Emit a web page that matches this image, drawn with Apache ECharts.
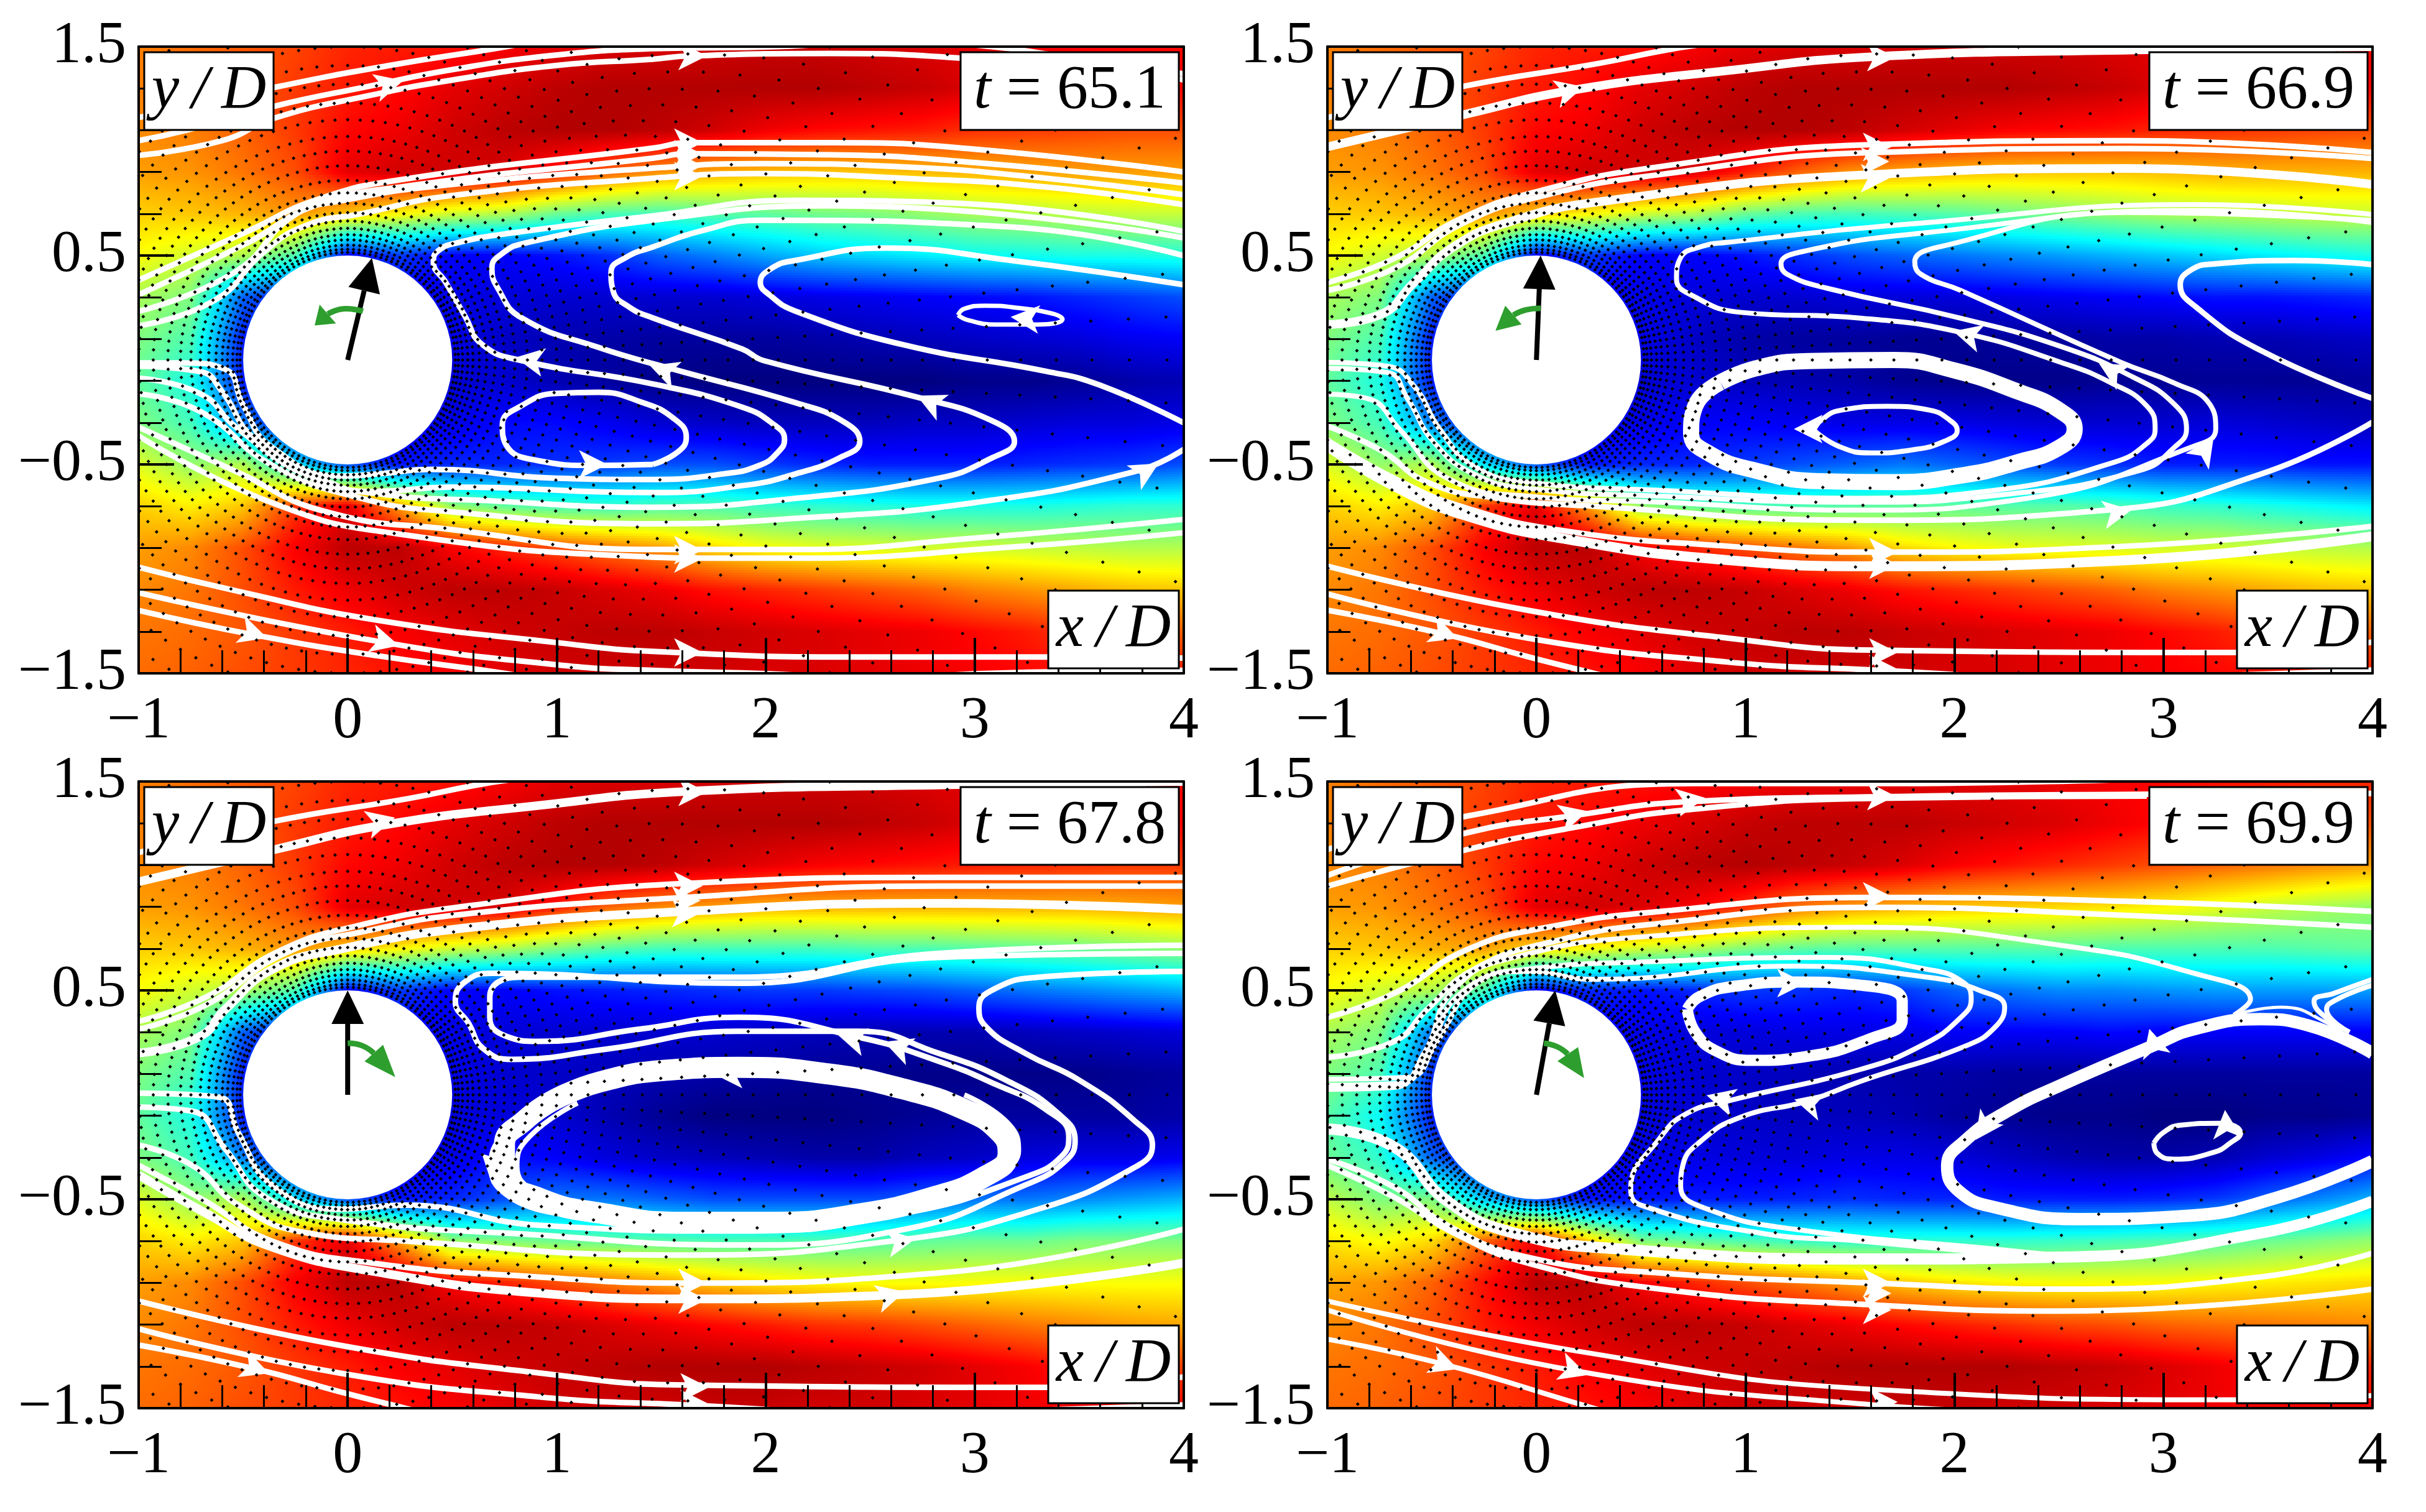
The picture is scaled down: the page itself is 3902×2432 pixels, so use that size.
<!DOCTYPE html>
<html>
<head>
<meta charset="utf-8">
<style>html,body{margin:0;padding:0;background:#fff}#chart{width:3902px;height:2432px}</style>
<script src="https://cdn.jsdelivr.net/npm/echarts@6/dist/echarts.min.js"></script>
</head>
<body>
<div id="chart"></div>
<script>
// stations of the velocity field
const xStations = [-1,-0.75,-0.5,-0.25,0,0.25,0.5,0.75,1,1.25,1.5,1.75,2,2.25,2.5,2.75,3,3.25,3.5,3.75,4]
const yStations = [1.5,1.3,1.1,0.9,0.7,0.5,0.3,0.1,-0.1,-0.3,-0.5,-0.7,-0.9,-1.1,-1.3,-1.5]

const times = ['65.1', '66.9', '67.8', '69.9']
const xTicks = [-1, 0, 1, 2, 3, 4]
const yTicks = [-1.5, -0.5, 0.5, 1.5]
const yMinorTicks = [-1.3,-1.1,-0.9,-0.7,-0.3,-0.1,0.1,0.3,0.7,0.9,1.1,1.3]

// computational mesh, drawn as dots
const meshRadii = [0.515,0.53,0.55,0.575,0.6,0.63,0.665,0.705,0.75,0.8,0.86,0.93,1,1.07,1.15,1.23,1.32,1.41,1.5,1.6,1.71,1.82,1.94,2.06,2.19,2.32,2.46,2.6,2.75,2.9,3.06,3.22,3.39,3.56,3.74,3.92,4.1]
const meshAngles = [0,3,6,9,12,15,18,21,24,27,30,33,36,39,42,45,48,51,54,57,60,63,66,69,72,75,78,81,84,87,90,93,96,99,102,105,108,111,114,117,120,123,126,129,132,135,138,141,144,147,150,153,156,159,162,165,168,171,174,177,180,183,186,189,192,195,198,201,204,207,210,213,216,219,222,225,228,231,234,237,240,243,246,249,252,255,258,261,264,267,270,273,276,279,282,285,288,291,294,297,300,303,306,309,312,315,318,321,324,327,330,333,336,339,342,345,348,351,354,357]

const field651 = [
  [75,77,79,81,84,85,86,88,90,91,91,92,93,93,92,91,90,89,88,87,87],
  [75,76,79,82,85,87,90,92,94,95,95,95,95,95,94,93,91,90,89,88,87],
  [74,75,78,82,87,89,92,94,95,95,94,92,89,87,86,85,83,82,81,80,80],
  [72,73,76,80,90,92,92,91,85,78,73,71,69,68,68,69,70,71,72,72,72],
  [67,68,70,73,68,63,58,55,48,45,44,46,47,49,50,52,54,55,56,57,57],
  [62,58,55,45,12,18,12,12,14,17,22,25,29,32,34,36,38,39,40,40,41],
  [54,50,22,12,12,12,10,9,8,8,8,8,9,10,11,12,13,14,16,18,20],
  [50,45,15,12,12,12,10,7,5,4,3,3,3,4,5,6,7,8,9,11,12],
  [47,40,15,12,12,12,8,8,5,3,1,0,0,0,0,0,1,1,2,4,5],
  [50,44,25,12,12,12,10,13,13,11,8,7,6,6,6,7,7,8,9,9,10],
  [59,52,55,35,20,14,16,16,17,18,20,20,18,16,15,15,15,16,17,18,20],
  [67,64,68,82,90,72,52,47,44,43,45,45,43,42,41,40,40,40,41,42,42],
  [72,74,80,88,94,94,88,84,80,76,72,66,62,60,59,58,58,57,56,55,55],
  [74,76,80,85,89,92,94,94,93,91,89,86,84,82,80,78,75,73,71,69,68],
  [76,77,79,82,85,88,90,92,93,94,94,93,92,91,90,89,87,85,82,80,78],
  [77,78,80,82,84,86,88,90,92,92,92,92,91,91,90,89,88,87,86,85,85]
]
const field669 = [
  [75,77,79,81,84,85,86,88,90,91,91,92,92,92,92,91,90,89,88,87,87],
  [75,76,79,82,85,87,90,92,94,95,95,95,95,95,94,93,91,90,89,88,87],
  [74,75,78,82,87,89,92,94,95,95,94,92,90,88,87,86,84,83,82,81,80],
  [72,73,76,80,90,92,92,91,85,78,73,71,69,68,68,68,69,70,70,70,70],
  [67,68,70,73,68,63,58,55,48,45,44,45,46,48,50,52,54,55,56,57,57],
  [62,58,55,45,12,18,12,12,14,17,20,22,24,26,28,30,32,34,36,38,40],
  [54,50,22,12,12,12,10,9,8,8,9,9,9,10,11,12,13,14,14,15,16],
  [50,45,15,12,12,12,10,7,4,3,3,2,2,3,3,4,4,5,5,6,7],
  [47,40,15,12,12,12,8,8,6,5,4,2,1,1,1,2,2,2,2,2,3],
  [50,44,25,12,12,12,10,12,12,11,10,10,10,9,8,8,8,9,8,7,6],
  [59,52,55,35,20,14,16,16,18,20,22,24,22,20,18,17,15,15,15,14,14],
  [67,64,68,82,90,72,52,47,45,45,46,47,47,46,46,45,43,42,40,38,36],
  [72,74,80,88,94,94,88,84,80,76,72,66,63,61,60,59,58,58,57,56,55],
  [74,76,80,85,89,92,94,94,93,91,89,86,84,82,80,78,75,73,71,69,68],
  [76,77,79,82,85,88,90,92,93,94,94,93,92,91,90,89,87,85,82,80,78],
  [77,78,80,82,84,86,88,90,92,92,92,92,91,91,90,89,88,87,86,85,85]
]
const field678 = [
  [75,77,79,81,84,85,86,88,90,91,91,92,92,92,92,91,90,89,88,87,87],
  [75,76,79,82,85,87,90,92,94,95,95,95,95,95,94,93,91,90,89,88,87],
  [74,75,78,82,87,89,92,94,95,95,94,92,90,88,87,86,85,84,83,82,82],
  [72,73,76,80,90,92,92,91,85,78,74,72,70,70,70,70,70,70,70,71,72],
  [67,68,70,73,68,63,58,55,50,46,44,44,44,44,45,45,46,47,48,50,52],
  [62,58,55,45,12,18,12,12,14,15,16,17,18,18,19,20,22,24,26,28,30],
  [54,50,22,12,12,12,10,9,8,8,8,8,7,6,5,5,5,6,7,8,9],
  [50,45,15,12,12,12,10,8,7,6,5,4,3,2,2,1,1,1,1,2,3],
  [47,40,15,12,12,12,9,9,8,5,2,0,0,0,1,2,3,3,3,3,4],
  [50,44,25,12,12,12,10,14,12,9,7,6,5,4,4,6,7,9,10,10,11],
  [59,52,55,35,20,14,16,20,24,24,22,20,20,20,20,22,24,24,26,28,30],
  [67,64,68,82,90,72,52,50,48,47,46,45,45,45,46,47,48,48,50,50,50],
  [72,74,80,88,94,94,88,84,80,76,72,68,65,63,62,62,62,62,62,62,62],
  [74,76,80,85,89,92,94,94,93,91,89,87,85,83,82,80,78,76,74,72,71],
  [76,77,79,82,85,88,90,92,93,94,95,95,95,94,93,92,90,88,85,83,81],
  [77,78,80,82,84,86,88,90,92,92,92,93,93,92,92,91,90,89,88,87,87]
]
const field699 = [
  [75,77,79,81,84,85,86,87,88,89,89,90,90,90,89,88,87,86,85,84,84],
  [75,76,79,82,85,87,89,91,93,94,94,94,93,92,91,89,87,85,83,81,80],
  [74,75,78,82,87,89,92,94,95,94,93,91,88,86,84,82,80,78,76,74,72],
  [72,73,76,80,90,92,91,88,83,76,72,70,68,67,66,65,63,60,57,54,52],
  [67,68,70,72,66,62,58,55,50,47,46,46,46,46,46,45,45,45,45,46,47],
  [62,58,55,45,12,16,14,16,18,17,16,18,22,24,26,26,27,28,28,28,28],
  [54,50,24,12,12,12,10,9,9,10,10,10,12,12,12,13,12,12,12,12,12],
  [50,45,17,12,12,12,10,8,7,6,5,4,4,3,3,3,3,3,3,3,3],
  [46,38,15,12,12,12,9,8,7,6,6,5,3,2,1,1,0,0,1,1,2],
  [48,42,22,12,12,12,10,10,9,9,10,10,9,7,5,4,4,5,8,10,13],
  [56,50,50,32,20,14,14,15,15,16,17,16,16,15,15,15,16,18,22,26,30],
  [65,62,66,78,88,68,50,47,45,43,42,42,42,42,43,44,45,46,48,50,52],
  [71,73,78,86,94,94,88,84,80,76,72,68,65,63,62,62,62,63,64,65,66],
  [74,76,80,85,89,92,94,94,93,91,89,87,85,83,81,80,78,77,76,75,74],
  [76,77,79,82,85,88,90,92,93,94,95,95,95,95,94,93,91,89,87,85,84],
  [77,78,80,82,84,86,88,90,92,92,92,93,93,92,92,91,90,89,88,87,87]
]

// streamlines shared by the two middle frames
const outerTop = [
  [[-1,1.16],[-0.35,1.31],[0.3,1.42],[0.6,1.48],[0.79,1.51]],
  [[-1,1.02],[-0.346,1.175],[0.18,1.293],[0.913,1.385],[1.615,1.452],[2.92,1.485],[4,1.5]]
]
const outerBottom = [
  [[-1,-0.987],[-0.043,-1.198],[0.913,-1.331],[1.615,-1.389],[3.353,-1.4],[4,-1.35]],
  [[-1,-1.12],[-0.043,-1.331],[0.913,-1.446],[1.615,-1.484],[2.5,-1.52],[4,-1.484]],
  [[-1,-1.198],[-0.442,-1.312],[-0.043,-1.42],[0.276,-1.5],[0.4,-1.53]]
]

const lines651 = [
  [[-1,1.16],[-0.35,1.305],[0.2,1.41],[0.76,1.5],[0.9,1.53]],
  [[-1,1.05],[-0.77,1.1],[-0.35,1.215],[0.1,1.31],[0.5,1.39],[1,1.46],[1.46,1.49],[2.06,1.5],[2.6,1.53],[3.08,1.5],[3.5,1.44],[4,1.37]],
  [[-1,0.98],[-0.6,1.05],[-0.35,1.158],[0.1,1.265],[0.5,1.34],[1,1.41],[1.46,1.44],[1.63,1.455],[2.31,1.467],[2.93,1.445],[3.9,1.36],[4,1.34]],
  [[-1,0.382],[-0.48,0.615],[-0.158,0.764],[0.235,0.86],[1.46,1.014],[1.63,1.04],[2.315,1.04],[3,1.009],[4,0.9]],
  [[-1,0.313],[-0.48,0.56],[-0.158,0.738],[0.287,0.833],[1.46,0.966],[1.63,0.987],[2.315,0.982],[3,0.945],[4,0.847]],
  [[-1,0.233],[-0.534,0.424],[-0.26,0.69],[-0.02,0.764],[0.49,0.839],[1.46,0.918],[1.97,0.94],[2.66,0.924],[3.34,0.87],[4,0.791]],
  [[-1,0.164],[-0.636,0.286],[-0.397,0.52],[-0.192,0.647],[0.064,0.7],[0.49,0.786],[1.46,0.87],[1.97,0.892],[2.66,0.87],[3.34,0.828],[4,0.743]],
  [[-1,-0.014],[-0.79,-0.014],[-0.585,-0.045],[-0.5,-0.216],[-0.363,-0.418],[-0.021,-0.556],[0.15,-0.545],[0.406,-0.524],[1,-0.566],[1.46,-0.572],[1.8,-0.545],[1.974,-0.503],[2.06,-0.44],[2.09,-0.38],[2.04,-0.31],[1.888,-0.226],[1.461,-0.115],[0.833,-0.003],[0.645,0.073],[0.56,0.212],[0.47,0.37],[0.41,0.47],[0.43,0.52],[0.52,0.56],[0.8,0.61],[1.46,0.69],[2.144,0.764],[2.83,0.754],[4,0.615]],
  [[-1,-0.03],[-0.704,-0.056],[-0.6,-0.152],[-0.448,-0.375],[-0.106,-0.577],[0.116,-0.63],[0.49,-0.609],[1.46,-0.635],[1.9,-0.6],[2.144,-0.545],[2.35,-0.47],[2.45,-0.39],[2.38,-0.3],[2.144,-0.205],[1.564,-0.046],[1.2,0.06],[0.833,0.201],[0.72,0.34],[0.69,0.44],[0.74,0.51],[0.85,0.56],[1.46,0.669],[2.315,0.738],[4,0.584]],
  [[-1,-0.088],[-0.704,-0.162],[-0.534,-0.322],[-0.192,-0.556],[0.15,-0.641],[0.662,-0.673],[1.46,-0.705],[2.144,-0.662],[2.828,-0.566],[3.08,-0.47],[3.19,-0.39],[3.08,-0.29],[2.725,-0.178],[1.99,-0.003],[1.888,0.052],[1.461,0.201],[1.346,0.254],[1.27,0.33],[1.26,0.42],[1.33,0.49],[1.46,0.541],[1.7,0.62],[1.974,0.669],[3.17,0.637],[4,0.499]],
  [[-1,-0.162],[-0.704,-0.247],[-0.363,-0.503],[0.064,-0.662],[0.49,-0.726],[1.46,-0.784],[2.144,-0.758],[3,-0.683],[3.767,-0.534],[4,-0.428]],
  [[4,-0.301],[3.597,-0.12],[3.34,-0.054],[2.657,0.073],[2.144,0.233],[2.02,0.31],[1.974,0.371],[2.03,0.44],[2.144,0.477],[2.572,0.536],[3.17,0.477],[4,0.36]],
  [[1.46,-0.5],[1.58,-0.44],[1.62,-0.37],[1.56,-0.28],[1.4,-0.2],[1.2,-0.155],[1,-0.16],[0.83,-0.22],[0.74,-0.31],[0.76,-0.41],[0.9,-0.48],[1.175,-0.505],[1.46,-0.5]],
  [[-1,-0.364],[-0.363,-0.683],[0.235,-0.832],[1.46,-0.944],[1.683,-0.949],[2.144,-0.949],[3.17,-0.896],[4,-0.827]],
  [[-1,-0.322],[-0.534,-0.534],[-0.106,-0.726],[0.49,-0.811],[1.46,-0.907],[1.683,-0.907],[2.144,-0.907],[3,-0.853],[4,-0.763]],
  [[-1,-0.992],[-0.517,-1.109],[0.15,-1.247],[1,-1.353],[1.46,-1.395],[2.486,-1.422],[3.34,-1.422],[4,-1.427]],
  [[-1,-1.114],[0.15,-1.348],[1,-1.459],[1.46,-1.486],[2.02,-1.502],[2.6,-1.53],[3,-1.502],[4,-1.486]],
  [[-1,-1.199],[-0.448,-1.316],[0.15,-1.417],[0.765,-1.502],[0.9,-1.53]],
  [[2.92,0.215],[2.95,0.245],[3.05,0.26],[3.2,0.25],[3.38,0.22],[3.42,0.195],[3.3,0.17],[3.1,0.17],[2.97,0.19],[2.92,0.215]]
]
const widths651 = [9,9,9,9,9,9,9,9,9,9,9,9,9,9,9,9,9,9,7]
const arrows651 = [[0.2,1.32,15],[1.65,1.455,0],[1.63,1.04,0],[1.63,0.985,0],[1.63,0.93,0],[1.63,0.88,0],[3.24,0.2,175],[0.87,0,170],[1.175,-0.5,0],[1.51,-0.05,160],[2.785,-0.2,155],[3.82,-0.53,30],[1.63,-0.91,0],[1.63,-0.95,0],[1.63,-1.4,0],[-0.45,-1.31,-18],[0.18,-1.35,-15]]

const lines669 = [
  outerTop[0], outerTop[1],
  [[-1,0.371],[-0.68,0.486],[-0.362,0.677],[0.02,0.811],[0.594,0.926],[1.615,1.031],[2.83,1.05],[4,0.993]],
  [[-1,0.333],[-0.68,0.438],[-0.362,0.649],[0.02,0.783],[0.594,0.888],[1.615,0.993],[2.83,1.012],[4,0.964]],
  [[-1,0.17],[-0.745,0.218],[-0.585,0.371],[-0.394,0.543],[-0.139,0.658],[0.276,0.754],[1.615,0.888],[2.83,0.917],[4,0.84]],
  [[-1,-0.011],[-0.713,-0.03],[-0.585,-0.126],[-0.458,-0.337],[-0.298,-0.509],[-0.043,-0.585],[0.594,-0.624],[1.551,-0.662],[2.19,-0.624],[2.763,-0.49],[2.92,-0.4],[2.96,-0.33],[2.92,-0.22],[2.75,-0.11],[2.508,-0.011],[2.03,0.132],[1.551,0.2],[0.977,0.228],[0.754,0.304],[0.67,0.39],[0.69,0.49],[0.78,0.54],[0.913,0.563],[1.87,0.658],[3.145,0.744],[4,0.696]],
  [[-1,-0.04],[-0.713,-0.06],[-0.617,-0.184],[-0.49,-0.394],[-0.298,-0.547],[-0.043,-0.614],[0.594,-0.652],[1.551,-0.681],[2.25,-0.643],[2.89,-0.528],[3.05,-0.42],[3.11,-0.33],[3.05,-0.21],[2.85,-0.08],[2.508,0.065],[2.03,0.2],[1.392,0.343],[1.2,0.41],[1.17,0.46],[1.296,0.524],[1.87,0.61],[3.145,0.716],[4,0.658]],
  [[-1,-0.164],[-0.81,-0.184],[-0.65,-0.337],[-0.426,-0.566],[-0.043,-0.652],[0.594,-0.681],[1.551,-0.719],[2.348,-0.662],[3.145,-0.413],[3.25,-0.33],[3.22,-0.21],[3.05,-0.11],[2.795,-0.011],[2.03,0.333],[1.84,0.41],[1.81,0.47],[1.934,0.543],[2.827,0.706],[4,0.668]],
  [[-1,-0.317],[-0.745,-0.432],[-0.522,-0.585],[-0.2,-0.66],[0.276,-0.7],[1.551,-0.767],[2.73,-0.719],[3.464,-0.547],[4,-0.298]],
  [[4,-0.184],[3.464,0.046],[3.16,0.25],[3.08,0.36],[3.13,0.43],[3.241,0.46],[3.624,0.476],[4,0.457]],
  [[-1,-0.384],[-0.68,-0.566],[-0.362,-0.7],[0.116,-0.815],[0.913,-0.891],[1.615,-0.92],[2.827,-0.891],[4,-0.796]],
  [[-1,-0.413],[-0.68,-0.604],[-0.362,-0.738],[0.116,-0.853],[0.913,-0.958],[1.615,-0.987],[2.827,-0.958],[4,-0.844]],
  [[0.881,-0.107],[1.05,-0.04],[1.3,-0.005],[1.71,0],[2,-0.05],[2.3,-0.15],[2.5,-0.24],[2.575,-0.33],[2.5,-0.42],[2.3,-0.49],[2.05,-0.55],[1.7,-0.585],[1.35,-0.58],[1.05,-0.53],[0.83,-0.45],[0.74,-0.35],[0.76,-0.22],[0.881,-0.107]],
  [[1.328,-0.337],[1.36,-0.29],[1.46,-0.24],[1.679,-0.222],[1.88,-0.24],[1.98,-0.29],[2.013,-0.337],[1.95,-0.39],[1.8,-0.43],[1.6,-0.445],[1.45,-0.415],[1.328,-0.337]],
  outerBottom[0], outerBottom[1], outerBottom[2]
]
const widths669 = [9,14,9,9,14,8,8,8,9,9,9,16,26,8,9,9,9]
const arrows669 = [[0.16,1.29,15],[1.65,1.45,0],[1.63,1.02,0],[1.62,0.95,0],[1.62,0.87,0],[2.06,0.12,165],[2.75,-0.05,150],[1.3,-0.33,180],[3.2,-0.43,55],[2.78,-0.73,10],[1.66,-0.92,0],[1.66,-0.98,0],[-0.44,-1.31,-20],[1.66,-1.4,0],[1.66,-1.48,0]]

const lines678 = [
  outerTop[0], outerTop[1],
  [[-1,0.352],[-0.68,0.467],[-0.33,0.687],[0.052,0.811],[0.594,0.907],[1.615,1.012],[2.827,1.041],[4,1.041]],
  [[-1,0.314],[-0.68,0.429],[-0.3,0.677],[0.084,0.783],[0.594,0.869],[1.615,0.945],[2.827,0.999],[4,0.999]],
  [[-1,0.2],[-0.713,0.276],[-0.585,0.41],[-0.362,0.6],[-0.043,0.696],[0.594,0.802],[1.615,0.878],[2.827,0.917],[4,0.888]],
  [[-1,0.008],[-0.617,-0.011],[-0.522,-0.184],[-0.362,-0.432],[-0.043,-0.547],[0.276,-0.528],[0.913,-0.624],[1.87,-0.652],[2.667,-0.566],[3.241,-0.394],[3.42,-0.29],[3.45,-0.2],[3.34,-0.07],[3.1,0.05],[2.827,0.161],[2.444,0.276],[1.87,0.371],[1.392,0.314],[0.913,0.256],[0.76,0.28],[0.68,0.37],[0.68,0.47],[0.818,0.563],[1.87,0.563],[2.827,0.677],[4,0.716]],
  [[-1,-0.059],[-0.745,-0.078],[-0.585,-0.26],[-0.394,-0.49],[-0.043,-0.595],[0.913,-0.671],[1.87,-0.719],[2.667,-0.643],[3.241,-0.432],[3.43,-0.32],[3.48,-0.22],[3.4,-0.09],[3.15,0.07],[2.827,0.199],[2.444,0.304],[1.87,0.304],[1.232,0.218],[0.786,0.17],[0.65,0.22],[0.58,0.34],[0.515,0.448],[0.56,0.54],[0.69,0.582],[1.87,0.534],[2.827,0.658],[4,0.677]],
  [[-1,-0.241],[-0.745,-0.337],[-0.522,-0.528],[-0.2,-0.66],[0.276,-0.7],[1.551,-0.767],[2.604,-0.7],[3.305,-0.547],[3.783,-0.337],[3.85,-0.24],[3.76,-0.12],[3.5,0.07],[3.241,0.199],[3.05,0.33],[3.02,0.42],[3.1,0.51],[3.305,0.563],[4,0.591]],
  [[-1,-0.337],[-0.68,-0.509],[-0.362,-0.7],[0.116,-0.805],[0.913,-0.872],[1.615,-0.901],[2.827,-0.853],[4,-0.643]],
  [[-1,-0.384],[-0.68,-0.566],[-0.362,-0.729],[0.116,-0.844],[0.913,-0.949],[1.615,-0.977],[2.604,-0.958],[4,-0.805]],
  [[0.977,-0.03],[1.2,0.06],[1.55,0.12],[1.87,0.132],[2.3,0.1],[2.65,0.03],[2.95,-0.07],[3.12,-0.18],[3.16,-0.28],[3.05,-0.39],[2.8,-0.49],[2.45,-0.57],[2.05,-0.61],[1.6,-0.61],[1.2,-0.565],[0.93,-0.5],[0.76,-0.39],[0.75,-0.24],[0.85,-0.12],[0.977,-0.03]],
  [[1.04,-0.011],[0.786,-0.164],[0.69,-0.337],[0.786,-0.49],[1.04,-0.566]],
  [[1.1,-0.04],[0.87,-0.2],[0.81,-0.34],[0.9,-0.47],[1.1,-0.55]],
  [[2.95,0],[3.18,-0.16],[3.21,-0.27],[3.05,-0.42]],
  outerBottom[0], outerBottom[1], outerBottom[2]
]
const widths678 = [9,14,9,9,14,9,9,9,9,14,34,12,8,8,9,9,9]
const arrows678 = [[0.16,1.31,15],[1.65,1.45,0],[1.63,1.0,0],[1.62,0.93,0],[1.62,0.87,0],[2.41,0.27,165],[2.63,0.23,160],[0.69,-0.33,135],[1.82,0.1,180],[2.65,-0.7,10],[1.65,-0.9,0],[1.65,-0.98,0],[2.6,-0.96,15],[-0.44,-1.31,-20],[1.66,-1.4,0],[1.66,-1.48,0]]

const lines699 = [
  [[-1,1.175],[-0.346,1.332],[0.754,1.49],[1.647,1.49],[2.827,1.51]],
  [[-1,1.05],[-0.346,1.251],[0.18,1.337],[0.738,1.404],[1.647,1.427],[2.92,1.439],[4,1.443]],
  [[-1,0.999],[-0.346,1.171],[0.18,1.28],[0.738,1.366],[1.647,1.42],[2.92,1.43]],
  [[-1,0.371],[-0.68,0.486],[-0.33,0.696],[0.052,0.802],[0.594,0.878],[1.615,0.945],[2.827,0.926],[4,0.878]],
  [[-1,0.18],[-0.68,0.256],[-0.522,0.41],[-0.3,0.6],[0.084,0.735],[0.594,0.821],[1.615,0.897],[2.827,0.859],[4,0.802]],
  [[-1,0.027],[-0.68,0.036],[-0.538,0.199],[-0.394,0.505],[-0.107,0.658],[0.594,0.763],[1.551,0.802],[2.508,0.716],[3.145,0.582],[3.416,0.457],[3.337,0.381]],
  [[4,0.199],[3.69,0.333],[3.464,0.362],[3.145,0.314],[2.954,0.237],[2.508,0.046],[2.25,-0.08],[2.05,-0.22],[1.965,-0.34],[2.02,-0.46],[2.2,-0.54],[2.6,-0.595],[3.1,-0.58],[3.55,-0.49],[4,-0.317]],
  [[-1,0.046],[-0.65,0.056],[-0.522,0.199],[-0.362,0.486],[-0.043,0.591],[0.276,0.553],[1.232,0.616],[1.87,0.563],[2.12,0.5],[2.24,0.42],[2.2,0.33],[2.061,0.237],[1.551,0.065],[1.296,-0.03],[0.977,-0.107],[0.786,-0.222],[0.7,-0.34],[0.69,-0.44],[0.818,-0.547],[1.232,-0.643],[2.189,-0.738],[2.6,-0.78]],
  [[-1,0.075],[-0.617,0.084],[-0.474,0.257],[-0.298,0.524],[-0.043,0.601],[0.594,0.639],[1.392,0.658],[1.87,0.601],[2.04,0.54],[2.08,0.46],[2.03,0.37],[1.85,0.24],[1.551,0.122],[0.913,-0.03],[0.722,-0.088],[0.594,-0.203],[0.451,-0.451],[0.499,-0.528],[1.073,-0.662],[1.551,-0.7],[2.253,-0.766]],
  [[-1,-0.164],[-0.68,-0.25],[-0.426,-0.509],[-0.107,-0.662],[0.403,-0.738],[1.551,-0.786],[2.508,-0.777],[3.464,-0.662],[4,-0.509]],
  [[-1,-0.308],[-0.68,-0.442],[-0.426,-0.624],[-0.043,-0.777],[0.594,-0.853],[1.615,-0.901],[2.508,-0.93],[3.464,-0.872],[4,-0.758]],
  [[-1,-0.337],[-0.68,-0.49],[-0.394,-0.662],[-0.043,-0.805],[0.594,-0.93],[1.615,-1.006],[2.508,-1.035],[4,-0.93]],
  [[0.722,0.41],[0.78,0.47],[0.95,0.52],[1.25,0.54],[1.55,0.525],[1.75,0.45],[1.75,0.36],[1.6,0.27],[1.3,0.185],[1.03,0.165],[0.86,0.21],[0.76,0.3],[0.722,0.41]],
  [[2.954,-0.231],[3.0,-0.18],[3.082,-0.145],[3.273,-0.136],[3.369,-0.184],[3.32,-0.23],[3.241,-0.275],[3.05,-0.308],[2.97,-0.28],[2.954,-0.231]],
  [[4,0.553],[3.815,0.486],[3.72,0.448],[3.815,0.333],[3.9,0.25]],
  [[4,0.525],[3.83,0.457],[3.78,0.41],[3.89,0.3]],
  [[3.337,0.381],[3.56,0.42],[3.78,0.345],[3.9,0.25]],
  [[-1,-0.987],[0.276,-1.24],[1.615,-1.41],[3.353,-1.46],[4,-1.44]],
  [[-1,-1.03],[0.18,-1.32],[1.615,-1.484],[2.5,-1.52]],
  [[-1,-1.17],[-0.442,-1.29],[0.276,-1.5],[0.4,-1.53]]
]
const widths699 = [9,9,9,9,9,8,20,8,8,18,9,9,18,8,8,8,5,8,8,8]
const arrows699 = [[0.18,1.34,15],[0.74,1.41,10],[1.65,1.43,0],[1.63,0.95,0],[1.22,0.535,0],[0.88,-0.02,165],[1.3,-0.04,165],[2.95,0.25,105],[2.14,-0.16,235],[3.3,-0.14,95],[1.63,-0.9,0],[1.63,-0.95,0],[1.63,-1.03,0],[-0.44,-1.29,-20],[0.18,-1.32,-18],[1.66,-1.47,0]]

// cylinder marker: tip of the black arrow, then the green arc and its tip
const blackTips = [[0.116,0.488],[0.02,0.5],[0,0.5],[0.09,0.5]]
const greenArcs = [
  [[0.073,0.233],[-0.02,0.245],[-0.095,0.22],[-0.158,0.165]],
  [[0.02,0.247],[-0.05,0.24],[-0.11,0.215],[-0.196,0.14]],
  [[0,0.247],[0.065,0.237],[0.125,0.2],[0.228,0.085]],
  [[0.036,0.247],[0.1,0.23],[0.15,0.195],[0.228,0.08]]
]

const panelFields = [field651, field669, field678, field699]
const panelLines = [lines651, lines669, lines678, lines699]
const panelWidths = [widths651, widths669, widths678, widths699]
const panelArrows = [arrows651, arrows669, arrows678, arrows699]
const gridLefts = [223, 2135, 223, 2135]
const gridTops = [75, 75, 1257, 1257]
const gridW = 1681
const gridH = 1008
const fontName = '"Liberation Serif", "DejaVu Serif", serif'

function clamp01 (v) {
  return Math.max(0, Math.min(1, v))
}
// jet colormap, v in 0..100
function jet (v) {
  let t = v / 100
  let r = clamp01(1.5 - Math.abs(4 * t - 3))
  let g = clamp01(1.5 - Math.abs(4 * t - 2))
  let b = clamp01(1.5 - Math.abs(4 * t - 1))
  return 'rgb(' + Math.round(r * 255) + ',' + Math.round(g * 255) + ',' + Math.round(b * 255) + ')'
}

function fieldSeries (idx) {
  let F = panelFields[idx]
  let cells = []
  for (let r = 0; r < yStations.length - 1; r++) {
    for (let c = 0; c < xStations.length - 1; c++) {
      cells.push([xStations[c], yStations[r], F[r][c]])
    }
  }
  let cols = xStations.length - 1
  return {
    type: 'custom',
    xAxisIndex: idx * 2,
    yAxisIndex: idx * 3,
    silent: true,
    z: 1,
    clip: true,
    progressive: 0,
    data: cells,
    renderItem (params, api) {
      let c = params.dataIndex % cols
      let r = Math.floor(params.dataIndex / cols)
      let a = api.coord([xStations[c], yStations[r]])
      let b = api.coord([xStations[c + 1], yStations[r + 1]])
      let x0 = Math.round(a[0])
      let x1 = Math.round(b[0])
      let y0 = Math.round(a[1])
      let y1 = Math.round(b[1])
      let children = []
      // shade the cell between the four read values
      for (let y = y0; y < y1; y += 4) {
        let f = (y + 2 - y0) / (y1 - y0)
        let vl = F[r][c] * (1 - f) + F[r + 1][c] * f
        let vr = F[r][c + 1] * (1 - f) + F[r + 1][c + 1] * f
        let stops = [0, 0.25, 0.5, 0.75, 1].map((s) => ({offset: s, color: jet(vl + (vr - vl) * s)}))
        children.push({
          type: 'rect',
          shape: {x: x0, y: y, width: x1 - x0, height: Math.min(4, y1 - y)},
          style: {fill: new echarts.graphic.LinearGradient(0, 0, 1, 0, stops)}
        })
      }
      return {type: 'group', children: children}
    }
  }
}

function meshData () {
  let out = []
  meshRadii.forEach((rad) => {
    meshAngles.forEach((ang) => {
      let x = rad * Math.cos(ang * Math.PI / 180)
      let y = rad * Math.sin(ang * Math.PI / 180)
      if (x > -1 && x < 4 && y > -1.5 && y < 1.5) out.push([x, y])
    })
  })
  return out
}
const meshDots = meshData()

function markerSeries (idx) {
  return {
    type: 'custom',
    xAxisIndex: idx * 2,
    yAxisIndex: idx * 3,
    silent: true,
    z: 8,
    clip: true,
    data: [[0, 0]],
    renderItem (params, api) {
      let o = api.coord([0, 0])
      let rad = api.size([1, 0])[0] * 0.5
      let tip = api.coord(blackTips[idx])
      let dx = tip[0] - o[0]
      let dy = tip[1] - o[1]
      let len = Math.sqrt(dx * dx + dy * dy)
      let ux = dx / len
      let uy = dy / len
      let base = [tip[0] - ux * 54, tip[1] - uy * 54]
      let arc = greenArcs[idx].map((p) => api.coord(p))
      let last = arc[2]
      let gt = arc[3]
      let gl = Math.sqrt((gt[0] - last[0]) * (gt[0] - last[0]) + (gt[1] - last[1]) * (gt[1] - last[1]))
      let gx = (gt[0] - last[0]) / gl
      let gy = (gt[1] - last[1]) / gl
      return {
        type: 'group',
        children: [
          {type: 'circle', shape: {cx: o[0], cy: o[1], r: rad}, style: {fill: '#fff'}},
          {type: 'line', shape: {x1: o[0], y1: o[1], x2: base[0], y2: base[1]}, style: {stroke: '#000', lineWidth: 8}},
          {type: 'polygon', shape: {points: [tip, [base[0] - uy * 26, base[1] + ux * 26], [base[0] + uy * 26, base[1] - ux * 26]]}, style: {fill: '#000'}},
          {type: 'polyline', shape: {points: arc.slice(0, 3), smooth: 0.5}, style: {stroke: '#2e9e2e', lineWidth: 9, fill: 'none'}},
          {type: 'polygon', shape: {points: [gt, [last[0] - gy * 20, last[1] + gx * 20], [last[0] + gy * 20, last[1] - gx * 20]]}, style: {fill: '#2e9e2e'}}
        ]
      }
    }
  }
}

function buildSeries () {
  let series = []
  panelFields.forEach((f, idx) => {
    series.push(fieldSeries(idx))
    panelLines[idx].forEach((pts, n) => {
      series.push({
        type: 'line',
        xAxisIndex: idx * 2,
        yAxisIndex: idx * 3,
        data: pts,
        silent: true,
        showSymbol: false,
        smooth: 0.5,
        z: 3,
        lineStyle: {color: '#fff', width: panelWidths[idx][n]}
      })
    })
    series.push({
      type: 'scatter',
      xAxisIndex: idx * 2,
      yAxisIndex: idx * 3,
      data: panelArrows[idx],
      silent: true,
      z: 4,
      symbol: 'path://M0,-10 L8.5,10 L0,5 L-8.5,10 Z',
      symbolSize: [46, 46],
      symbolRotate: (val) => val[2] - 90,
      itemStyle: {color: '#fff', opacity: 1}
    })
    series.push({
      type: 'scatter',
      xAxisIndex: idx * 2,
      yAxisIndex: idx * 3,
      data: meshDots,
      silent: true,
      z: 5,
      symbol: 'diamond',
      symbolSize: 6,
      itemStyle: {color: '#000', opacity: 1}
    })
    series.push(markerSeries(idx))
  })
  return series
}

function tickText (val) {
  return (val < 0 ? '\u2212' + Math.abs(val) : '' + val)
}

function buildAxes () {
  let xAxis = []
  let yAxis = []
  let labelStyle = {color: '#000', fontFamily: fontName, fontSize: 96}
  let frame = {show: true, onZero: false, lineStyle: {color: '#000', width: 4}}
  gridLefts.forEach((left, i) => {
    xAxis.push({
      type: 'value', gridIndex: i, min: -1, max: 4, interval: 1, z: 6, position: 'bottom',
      axisLine: frame,
      splitLine: {show: false},
      axisTick: {show: true, inside: true, length: 57, lineStyle: {color: '#000', width: 4}},
      minorTick: {show: true, splitNumber: 5, length: 37, lineStyle: {color: '#000', width: 3}},
      axisLabel: Object.assign({margin: 30, customValues: xTicks, formatter: tickText, alignMinLabel: 'center', alignMaxLabel: 'center'}, labelStyle)
    })
    xAxis.push({
      type: 'value', gridIndex: i, min: -1, max: 4, interval: 1, z: 6, position: 'top',
      axisLine: frame, axisTick: {show: false}, axisLabel: {show: false}, splitLine: {show: false}
    })
    yAxis.push({
      type: 'value', gridIndex: i, min: -1.5, max: 1.5, interval: 0.5, z: 6, position: 'left',
      axisLine: frame,
      splitLine: {show: false},
      axisTick: {show: true, inside: true, length: 57, customValues: yTicks, lineStyle: {color: '#000', width: 4}},
      axisLabel: Object.assign({margin: 20, customValues: yTicks, formatter: tickText, verticalAlignMinLabel: 'middle', verticalAlignMaxLabel: 'middle'}, labelStyle)
    })
    yAxis.push({
      type: 'value', gridIndex: i, min: -1.5, max: 1.5, interval: 0.5, z: 6, position: 'left',
      axisLine: {show: false, onZero: false},
      splitLine: {show: false},
      axisTick: {show: true, inside: true, length: 37, customValues: yMinorTicks, lineStyle: {color: '#000', width: 3}},
      axisLabel: {show: false}
    })
    yAxis.push({
      type: 'value', gridIndex: i, min: -1.5, max: 1.5, interval: 0.5, z: 6, position: 'right',
      axisLine: frame, axisTick: {show: false}, axisLabel: {show: false}, splitLine: {show: false}
    })
  })
  return {xAxis, yAxis}
}

function box (x, y, w, h, text, tx) {
  return [
    {type: 'rect', z: 100, shape: {x: x, y: y, width: w, height: h}, style: {fill: '#fff', stroke: '#000', lineWidth: 3}},
    {
      type: 'text', z: 101, x: x + w / 2 + (tx || 0), y: y + h / 2,
      style: {
        text: text,
        align: 'center',
        verticalAlign: 'middle',
        fontFamily: fontName,
        fontSize: 100,
        fill: '#000',
        rich: {
          i: {fontFamily: fontName, fontStyle: 'italic', fontSize: 100, fill: '#000'},
          n: {fontFamily: fontName, fontSize: 100, fill: '#000'}
        }
      }
    }
  ]
}

function buildLabels () {
  let out = []
  times.forEach((t, i) => {
    let l = gridLefts[i]
    let o = gridTops[i]
    out = out.concat(box(l + 9, o + 9, 208, 125, '{i|y\u2009/\u2009D}'))
    out = out.concat(box(l + 1322, o + 9, 351, 125, '{i|t}{n| = ' + t + '}'))
    out = out.concat(box(l + 1463, o + 875, 210, 125, '{i|x\u2009/\u2009D}'))
  })
  return out
}

let chart = echarts.init(document.getElementById('chart'), null, {renderer: 'canvas'})
let axes = buildAxes()
chart.setOption({
  animation: false,
  backgroundColor: '#fff',
  tooltip: {show: false},
  grid: gridLefts.map((left, i) => ({left: left, top: gridTops[i], width: gridW, height: gridH, show: false})),
  xAxis: axes.xAxis,
  yAxis: axes.yAxis,
  series: buildSeries(),
  graphic: {elements: buildLabels()}
})
</script>
</body>
</html>
